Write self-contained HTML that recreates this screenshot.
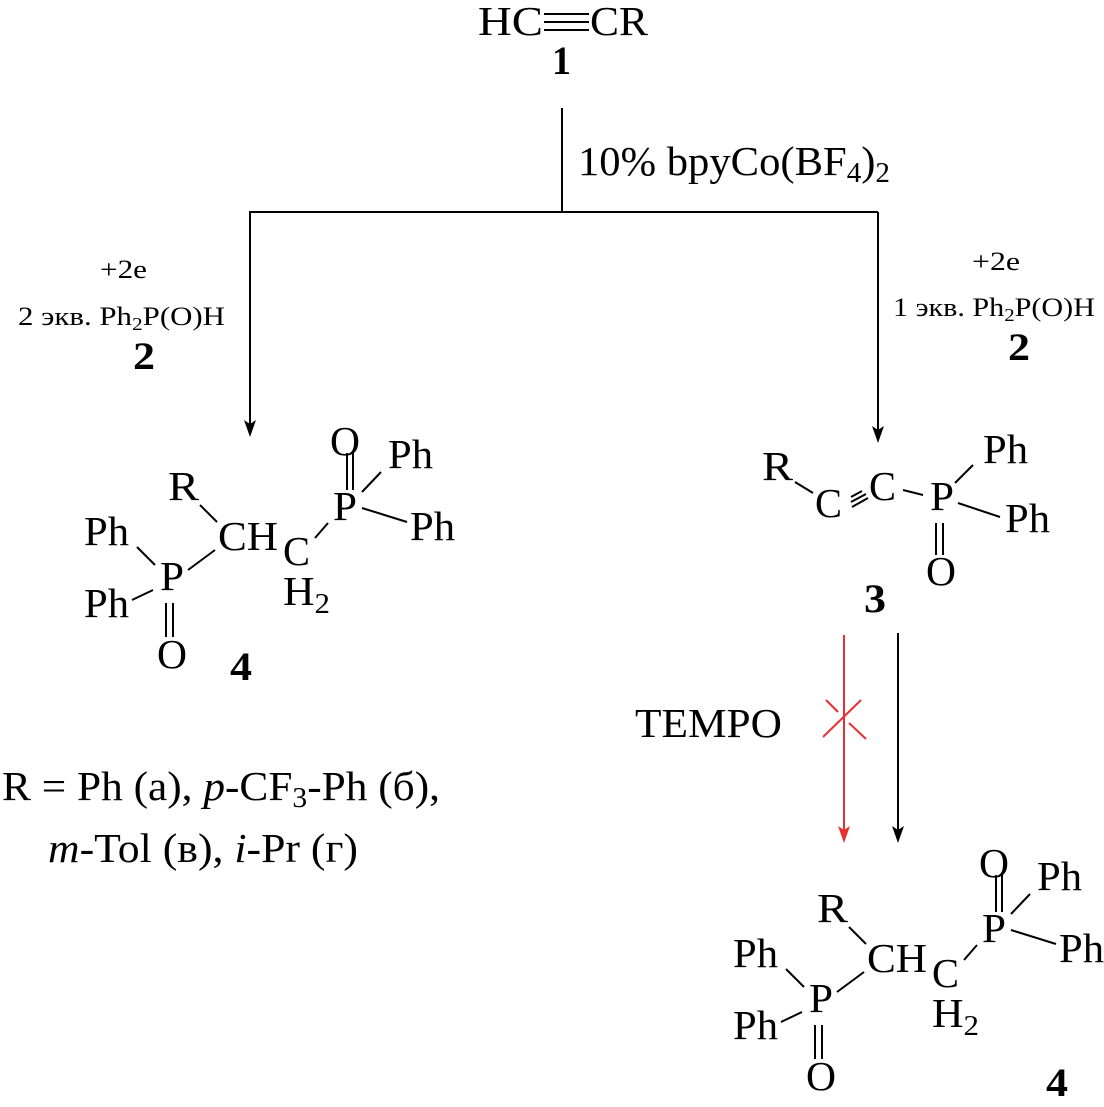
<!DOCTYPE html>
<html><head><meta charset="utf-8"><style>
html,body{margin:0;padding:0;background:#fff}
svg{display:block}
text{font-family:"Liberation Serif",serif;fill:#000}
.b{font-weight:bold}
</style></head><body>
<svg width="1104" height="1107" viewBox="0 0 1104 1107" xmlns="http://www.w3.org/2000/svg">
<defs>
<g id="s4" stroke="#000" stroke-width="2" fill="none">
<line x1="347" y1="453" x2="347" y2="490"/><line x1="353" y1="453" x2="353" y2="490"/>
<line x1="362" y1="492" x2="381" y2="472"/>
<line x1="362" y1="508" x2="407" y2="522"/>
<line x1="315" y1="538" x2="328" y2="523"/>
<line x1="200" y1="505" x2="217" y2="522"/>
<line x1="188" y1="570" x2="215" y2="550"/>
<line x1="137" y1="547" x2="155" y2="565"/>
<line x1="132" y1="600" x2="153" y2="590"/>
<line x1="166" y1="603" x2="166" y2="637"/><line x1="173" y1="603" x2="173" y2="637"/>
</g>
<g id="t4" font-size="41">
<text x="330" y="455" textLength="30" lengthAdjust="spacingAndGlyphs">O</text>
<text x="388" y="468" textLength="45" lengthAdjust="spacingAndGlyphs">Ph</text>
<text x="168" y="500" textLength="31" lengthAdjust="spacingAndGlyphs">R</text>
<text x="333" y="520" textLength="24" lengthAdjust="spacingAndGlyphs">P</text>
<text x="410" y="540" textLength="45" lengthAdjust="spacingAndGlyphs">Ph</text>
<text x="84" y="545" textLength="45" lengthAdjust="spacingAndGlyphs">Ph</text>
<text x="218" y="550" textLength="60" lengthAdjust="spacingAndGlyphs">CH</text>
<text x="283" y="565" textLength="27" lengthAdjust="spacingAndGlyphs">C</text>
<text x="160" y="590" textLength="24" lengthAdjust="spacingAndGlyphs">P</text>
<text x="283" y="605" textLength="47" lengthAdjust="spacingAndGlyphs">H<tspan font-size="29" dy="8">2</tspan></text>
<text x="84" y="617" textLength="45" lengthAdjust="spacingAndGlyphs">Ph</text>
<text x="157" y="668" textLength="30" lengthAdjust="spacingAndGlyphs">O</text>
</g>
</defs>

<text x="478" y="35" font-size="41" textLength="65" lengthAdjust="spacingAndGlyphs">HC</text>
<g stroke="#000" stroke-width="2"><line x1="544" y1="14" x2="589" y2="14"/><line x1="544" y1="22" x2="589" y2="22"/><line x1="544" y1="30" x2="589" y2="30"/></g>
<text x="590" y="35" font-size="41" textLength="58" lengthAdjust="spacingAndGlyphs">CR</text>
<text x="552" y="74" font-size="40" class="b" textLength="19" lengthAdjust="spacingAndGlyphs">1</text>

<g stroke="#000" stroke-width="2" fill="none">
<line x1="562" y1="108" x2="562" y2="212"/>
<line x1="249" y1="212" x2="878" y2="212"/>
<line x1="250" y1="212" x2="250" y2="428"/>
<line x1="878" y1="212" x2="878" y2="434"/>
<line x1="898" y1="633" x2="898" y2="834"/>
</g>
<polygon points="244,420 250,437 256,420 250,424" fill="#000"/>
<polygon points="872,426 878,443 884,426 878,430" fill="#000"/>
<polygon points="892,826 898,843 904,826 898,830" fill="#000"/>

<text x="578" y="175" font-size="41" textLength="312" lengthAdjust="spacingAndGlyphs">10% bpyCo(BF<tspan font-size="28" dy="7">4</tspan><tspan dy="-7">)</tspan><tspan font-size="28" dy="7">2</tspan></text>

<text x="100" y="278" font-size="26" textLength="47" lengthAdjust="spacingAndGlyphs">+2e</text>
<text x="18" y="325" font-size="26" textLength="207" lengthAdjust="spacingAndGlyphs">2 экв. Ph<tspan font-size="18" dy="5">2</tspan><tspan dy="-5">P(O)H</tspan></text>
<text x="133" y="369" font-size="39" class="b" textLength="22" lengthAdjust="spacingAndGlyphs">2</text>

<text x="972" y="270" font-size="26" textLength="48" lengthAdjust="spacingAndGlyphs">+2e</text>
<text x="893" y="316" font-size="26" textLength="202" lengthAdjust="spacingAndGlyphs">1 экв. Ph<tspan font-size="18" dy="5">2</tspan><tspan dy="-5">P(O)H</tspan></text>
<text x="1008" y="360" font-size="39" class="b" textLength="22" lengthAdjust="spacingAndGlyphs">2</text>

<use href="#s4"/><use href="#t4"/>
<text x="230" y="680" font-size="40" class="b" textLength="22" lengthAdjust="spacingAndGlyphs">4</text>

<g stroke="#000" stroke-width="2">
<line x1="795" y1="482" x2="813" y2="493"/>
<line x1="851" y1="497" x2="862" y2="491"/>
<line x1="851" y1="502" x2="866" y2="494"/>
<line x1="852" y1="507" x2="868" y2="498"/>
<line x1="903" y1="490" x2="923" y2="495"/>
<line x1="955" y1="483" x2="973" y2="465"/>
<line x1="958" y1="503" x2="1000" y2="517"/>
<line x1="936" y1="523" x2="936" y2="555"/><line x1="943" y1="523" x2="943" y2="555"/>
</g>
<g font-size="41">
<text x="762" y="480" textLength="31" lengthAdjust="spacingAndGlyphs">R</text>
<text x="815" y="517" textLength="27" lengthAdjust="spacingAndGlyphs">C</text>
<text x="869" y="500" textLength="27" lengthAdjust="spacingAndGlyphs">C</text>
<text x="930" y="510" textLength="24" lengthAdjust="spacingAndGlyphs">P</text>
<text x="983" y="463" textLength="45" lengthAdjust="spacingAndGlyphs">Ph</text>
<text x="1005" y="532" textLength="45" lengthAdjust="spacingAndGlyphs">Ph</text>
<text x="926" y="585" textLength="30" lengthAdjust="spacingAndGlyphs">O</text>
</g>
<text x="864" y="612" font-size="40" class="b" textLength="22" lengthAdjust="spacingAndGlyphs">3</text>

<text x="635" y="737" font-size="41" textLength="147" lengthAdjust="spacingAndGlyphs">TEMPO</text>
<g stroke="#e83030" stroke-width="2">
<line x1="844" y1="635" x2="844" y2="834"/>
<line x1="823" y1="737" x2="861" y2="700"/>
<line x1="826" y1="700" x2="838" y2="712"/>
<line x1="849" y1="723" x2="866" y2="739"/>
</g>
<polygon points="838,826 844,843 850,826 844,830" fill="#e83030"/>

<g transform="translate(649,422)"><use href="#s4"/><use href="#t4"/></g>
<text x="1046" y="1096" font-size="40" class="b" textLength="22" lengthAdjust="spacingAndGlyphs">4</text>

<text x="2" y="800" font-size="41" textLength="438" lengthAdjust="spacingAndGlyphs">R = Ph (а), <tspan font-style="italic">p</tspan>-CF<tspan font-size="28" dy="7">3</tspan><tspan dy="-7">-Ph (б),</tspan></text>
<text x="48" y="862" font-size="41" textLength="310" lengthAdjust="spacingAndGlyphs"><tspan font-style="italic">m</tspan>-Tol (в), <tspan font-style="italic">i</tspan>-Pr (г)</text>
</svg>
</body></html>
